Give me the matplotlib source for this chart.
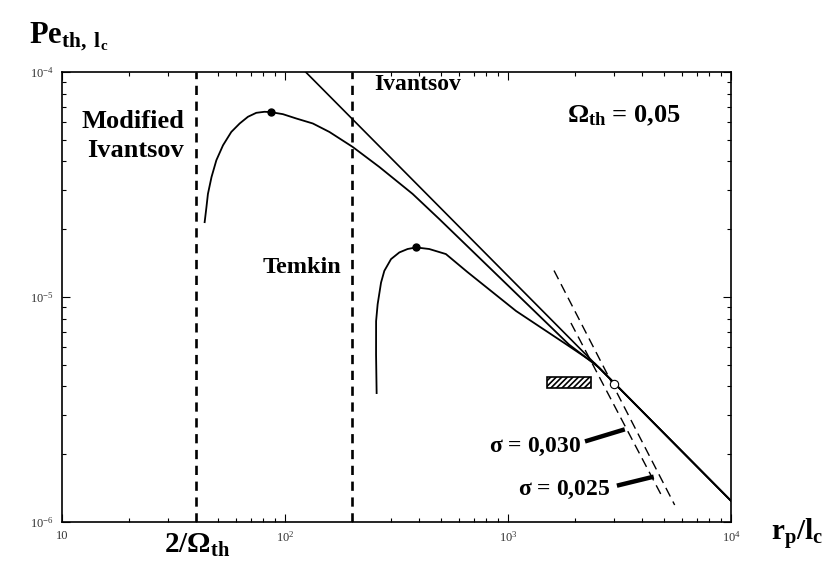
import numpy as np
import matplotlib
matplotlib.use('Agg')
import matplotlib.pyplot as plt
from matplotlib.patches import Rectangle

plt.rcParams['font.family'] = ['Liberation Serif', 'DejaVu Serif']
plt.rcParams['mathtext.fontset'] = 'custom'
plt.rcParams['mathtext.rm'] = 'Liberation Serif'
plt.rcParams['mathtext.it'] = 'Liberation Serif:italic'
plt.rcParams['mathtext.bf'] = 'Liberation Serif:bold'
plt.rcParams['hatch.linewidth'] = 1.2

# Ivantsov solution: straight line, slope -1
ivan_x = [123.6, 1.0e4]
ivan_y = [1.0e-4, 1.24e-6]

# modified Ivantsov curve
mod_x = [43.6, 44.4, 45.1, 46.8, 49.2, 52.7, 57.4, 62.6, 68.2, 74.3, 80.9, 86.1,
         97.8, 112.2, 133.2, 158.1, 201.1, 264.8, 373.2, 491.3, 1874, 2553, 1.0e4]
mod_y = [2.15e-5, 2.50e-5, 2.87e-5, 3.41e-5, 4.05e-5, 4.72e-5, 5.41e-5, 5.90e-5,
         6.32e-5, 6.58e-5, 6.65e-5, 6.63e-5, 6.49e-5, 6.21e-5, 5.90e-5, 5.41e-5,
         4.64e-5, 3.78e-5, 2.87e-5, 2.22e-5, 6.15e-6, 4.86e-6, 1.24e-6]
mod_peak = (86.1, 6.63e-5)

# Temkin curve
tem_x = [257.4, 255.9, 256.0, 260.1, 269.4, 278.7, 298.7, 325.4, 354.3, 386.4,
         443.1, 526.2, 655.5, 1086, 1818, 2450, 1.0e4]
tem_y = [3.74e-6, 5.55e-6, 7.81e-6, 9.28e-6, 1.158e-5, 1.306e-5, 1.473e-5, 1.577e-5,
         1.633e-5, 1.660e-5, 1.633e-5, 1.551e-5, 1.293e-5, 8.66e-6, 6.17e-6, 5.06e-6,
         1.24e-6]
tem_peak = (386.4, 1.660e-5)

# marginal stability lines
sig030_x = [1914, 4840]
sig030_y = [7.66e-6, 1.33e-6]
sig025_x = [1607, 5585]
sig025_y = [1.31e-5, 1.19e-6]
cross_pt = (2980, 4.1e-6)

# experimental box
box_x = [1493, 2350]
box_y = [3.93e-6, 4.43e-6]

# domain boundaries
vlines_x = [40, 200]

fig = plt.figure(figsize=(8.26, 5.64), dpi=100)
ax = fig.add_axes([0.0751, 0.0745, 0.810, 0.798])
ax.set_xscale('log')
ax.set_yscale('log')
ax.set_xlim(10, 1e4)
ax.set_ylim(1e-6, 1e-4)

for xv in vlines_x:
    ax.axvline(xv, color='black', lw=1.9, ls=(0, (3.5, 2.5)))

ax.plot(ivan_x, ivan_y, color='black', lw=1.2)
ax.plot(mod_x, mod_y, color='black', lw=1.3)
ax.plot(tem_x, tem_y, color='black', lw=1.3)
ax.plot(*mod_peak, 'o', color='black', ms=5)
ax.plot(*tem_peak, 'o', color='black', ms=5)
ax.plot(sig030_x, sig030_y, color='black', lw=1.0, ls=(0, (7, 4)))
ax.plot(sig025_x, sig025_y, color='black', lw=1.0, ls=(0, (7, 4)))
ax.plot(*cross_pt, 'o', mfc='white', mec='black', ms=6, mew=0.8)

ax.add_patch(Rectangle((box_x[0], box_y[0]), box_x[1] - box_x[0], box_y[1] - box_y[0],
                       facecolor='white', edgecolor='black', lw=1.2, hatch='//////'))

# pointer strokes for sigma labels
ax.plot([2213, 3337], [2.28e-6, 2.58e-6], color='black', lw=3.2, solid_capstyle='butt')
ax.plot([3076, 4498], [1.45e-6, 1.59e-6], color='black', lw=3.2, solid_capstyle='butt')

tf = dict(fontweight='bold', color='black')
ax.text(35.2, 5.2e-5, 'Modified\nIvantsov', ha='right', va='center', linespacing=1.35,
        fontsize=19, **tf)
ax.text(250, 8.75e-5, 'Ivantsov', ha='left', va='center', fontsize=17, **tf)
ax.text(1837, 6.35e-5, r'$\mathbf{\Omega_{th}}$' + ' = 0,05', ha='left', va='center',
        fontsize=19, **tf)
ax.text(179, 1.35e-5, 'Temkin', ha='right', va='center', fontsize=17.5, **tf)
ax.text(2124, 2.16e-6, r'$\mathbf{\sigma}$' + ' = 0,030', ha='right', va='center',
        fontsize=17, **tf)
ax.text(2892, 1.39e-6, r'$\mathbf{\sigma}$' + ' = 0,025', ha='right', va='center',
        fontsize=17, **tf)

fig.text(0.035, 0.935, r'$\mathbf{Pe_{th,\ l_c}}$', fontsize=22, ha='left', va='center')
fig.text(0.238, 0.033, r'$\mathbf{2/\Omega_{th}}$', fontsize=21, ha='center', va='center')
fig.text(0.933, 0.052, r'$\mathbf{r_p/l_c}$', fontsize=21, ha='left', va='center')

ax.set_xticks([10, 100, 1000, 10000])
ax.set_xticklabels(['10', r'$10^{2}$', r'$10^{3}$', r'$10^{4}$'])
ax.set_yticks([1e-6, 1e-5, 1e-4])
ax.set_yticklabels([r'$10^{-6}$', r'$10^{-5}$', r'$10^{-4}$'])
ax.tick_params(which='both', direction='in', top=True, right=True, labelsize=9,
               labelcolor='#333333', width=0.8)
ax.tick_params(which='major', length=6, pad=6)
ax.tick_params(which='minor', length=3)
for s in ax.spines.values():
    s.set_linewidth(1.2)

fig.savefig('out.png', dpi=100)
